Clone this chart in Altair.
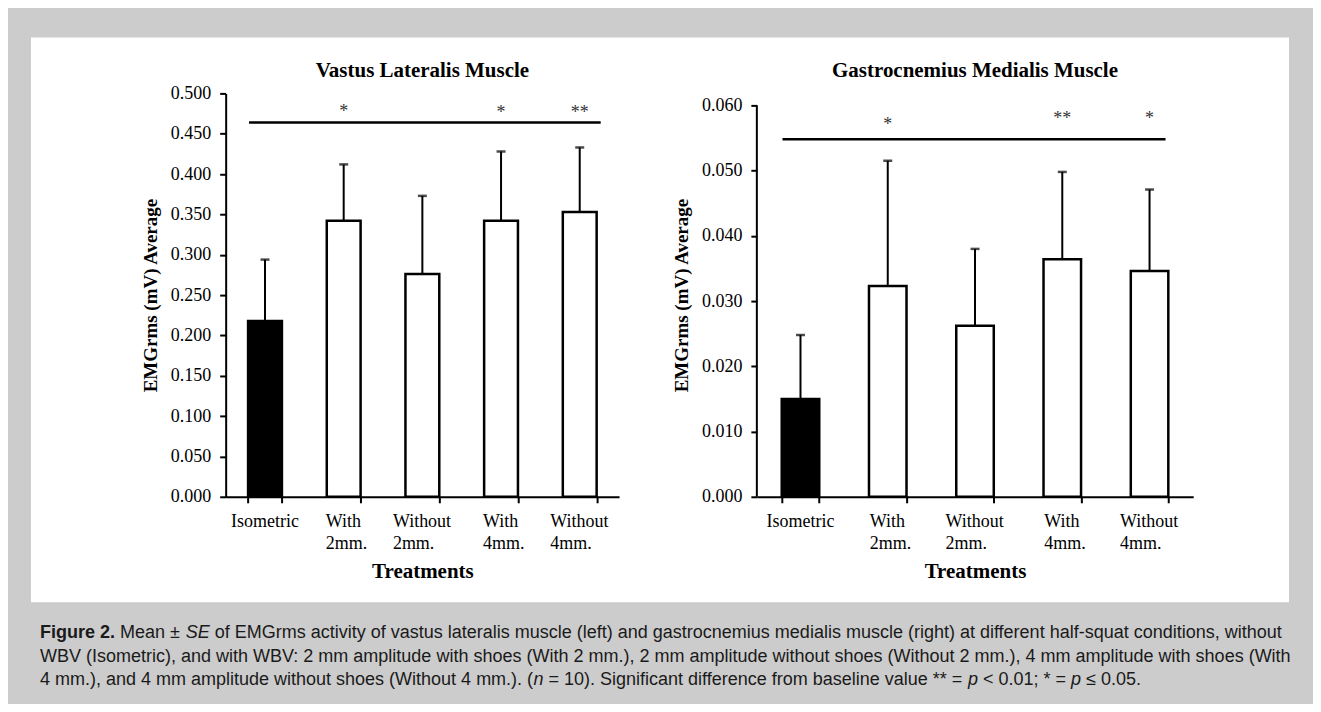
import altair as alt
import pandas as pd

# ---------------- data ----------------
cats = ["Isometric", "With 2mm.", "Without 2mm.", "With 4mm.", "Without 4mm."]

vl_mean = [0.218, 0.342, 0.276, 0.342, 0.353]
vl_se = [0.076, 0.070, 0.097, 0.086, 0.080]
vl_sig = ["", "*", "", "*", "**"]
vl_sig_y = [0.0, 0.471, 0.0, 0.469, 0.470]
vl_line_y = 0.464
vl_ticks = [0.0, 0.05, 0.10, 0.15, 0.20, 0.25, 0.30, 0.35, 0.40, 0.45, 0.50]

gm_mean = [0.0150, 0.0323, 0.0262, 0.0364, 0.0346]
gm_se = [0.0098, 0.0192, 0.0118, 0.0134, 0.0125]
gm_sig = ["", "*", "", "**", "*"]
gm_sig_y = [0.0, 0.0563, 0.0, 0.0572, 0.0572]
gm_line_y = 0.0548
gm_ticks = [0.0, 0.01, 0.02, 0.03, 0.04, 0.05, 0.06]

fills = ["black", "white", "white", "white", "white"]
label_group = ["iso", "with", "without", "with", "without"]

SERIF = "Liberation Serif"
SANS = "Liberation Sans"

# left-aligned two-line tick labels: shift = half width of first line (Times 18px)
label_dx = {"iso": -34, "with": -18, "without": -29.5}

# ---------------- caption ----------------
REG = {" ": 278, "!": 278, "(": 333, ")": 333, "*": 389, "+": 584, ",": 278, "-": 333,
       ".": 278, "/": 278, ":": 278, ";": 278, "<": 584, "=": 584, ">": 584,
       "A": 667, "B": 667, "C": 722, "D": 722, "E": 667, "F": 611, "G": 778, "H": 722,
       "I": 278, "J": 500, "K": 667, "L": 556, "M": 833, "N": 722, "O": 778, "P": 667,
       "Q": 778, "R": 722, "S": 667, "T": 611, "U": 722, "V": 667, "W": 944, "X": 667,
       "Y": 667, "Z": 611, "a": 556, "b": 556, "c": 500, "d": 556, "e": 556, "f": 278,
       "g": 556, "h": 556, "i": 222, "j": 222, "k": 500, "l": 222, "m": 833, "n": 556,
       "o": 556, "p": 556, "q": 556, "r": 333, "s": 500, "t": 278, "u": 556, "v": 500,
       "w": 722, "x": 500, "y": 500, "z": 500, "±": 584, "≤": 549}
BOLD = {" ": 278, ".": 278, "F": 611, "i": 278, "g": 611, "u": 611, "r": 389, "e": 556}


def uw(s, style):
    tab = BOLD if style == "b" else REG
    return sum(tab.get(c, REG.get(c, 556)) for c in s) / 1000.0


cap_lines = [
    [("Figure 2.", "b"), (" Mean ± ", "r"), ("SE", "i"),
     (" of EMGrms activity of vastus lateralis muscle (left) and gastrocnemius medialis muscle (right) at different half-squat conditions, without", "r")],
    [("WBV (Isometric), and with WBV: 2 mm amplitude with shoes (With 2 mm.), 2 mm amplitude without shoes (Without 2 mm.), 4 mm amplitude with shoes (With", "r")],
    [("4 mm.), and 4 mm amplitude without shoes (Without 4 mm.). (", "r"), ("n", "i"),
     (" = 10). Significant difference from baseline value ** = ", "r"), ("p", "i"),
     (" < 0.01; * = ", "r"), ("p", "i"), (" ≤ 0.05.", "r")],
]
# positions relative to the left plot's origin
cap_x0 = -186
cap_w = 1245
cap_y = [540, 564, 588]
cap_fs = round(cap_w / sum(uw(t, s) for t, s in cap_lines[0]), 2)

dummy = pd.DataFrame({"k": [0]})


def caption_layers():
    out = []
    for li, segs in enumerate(cap_lines):
        cur = 0.0
        for t, s in segs:
            lead = len(t) - len(t.lstrip(" "))
            px = round(cap_x0 + (cur + uw(t[:lead], s)) * cap_fs, 1)
            cur += uw(t, s)
            out.append(
                alt.Chart(dummy).mark_text(
                    text=t.strip(" "), font=SANS, fontSize=cap_fs,
                    fontWeight="bold" if s == "b" else "normal",
                    fontStyle="italic" if s == "i" else "normal",
                    align="left", baseline="middle", color="#1a1a1a",
                ).encode(x=alt.value(px), y=alt.value(cap_y[li]))
            )
    return out


def panel(title, means, ses, sig, sig_y, line_y, line_off, ymax, ticks, w, h,
          ytop_rule=None, decorate=False):
    df = pd.DataFrame({
        "cat": cats,
        "mean": means,
        "top": [m + s for m, s in zip(means, ses)],
        "fill": fills,
        "sig": sig,
        "sig_y": sig_y,
        "lab": [c.replace(" ", "\n") for c in cats],
        "grp": label_group,
    })
    xscale = alt.Scale(domain=cats, paddingInner=0.57, paddingOuter=0.285)
    yscale = alt.Scale(domain=[0, ymax], nice=False, zero=True)
    xax = alt.Axis(
        title="Treatments", titleFont=SERIF, titleFontSize=21, titleFontWeight="bold",
        titleColor="black", titlePadding=57, labels=False,
        tickBand="extent", tickSize=6, tickWidth=2, tickColor="black",
        domainWidth=2, domainColor="black", zindex=1,
    )
    yax = alt.Axis(
        title="EMGrms (mV) Average", titleFont=SERIF, titleFontSize=19, titleFontWeight="bold",
        titleColor="black", titlePadding=10,
        labelFont=SERIF, labelFontSize=18, labelColor="black", labelPadding=9,
        values=ticks, format=".3f", tickSize=6, tickWidth=2, tickColor="black",
        domain=(ytop_rule is None), domainWidth=2, domainColor="black", grid=False, zindex=1,
    )
    X = alt.X("cat:N", scale=xscale, axis=xax)
    base = alt.Chart(df)
    layers = []
    if decorate:
        layers.append(
            alt.Chart(dummy).mark_rect(fill="white").encode(
                x=alt.value(-195), x2=alt.value(1065), y=alt.value(-56), y2=alt.value(510)
            )
        )
        layers.append(
            alt.Chart(dummy).mark_rect(fill="#cccccc").encode(
                x=alt.value(-195), x2=alt.value(1065), y=alt.value(510), y2=alt.value(611)
            )
        )
    bars = base.mark_bar(stroke="black", strokeWidth=2.5).encode(
        x=X, y=alt.Y("mean:Q", scale=yscale, axis=yax),
        fill=alt.Fill("fill:N", scale=None),
    )
    err = base.mark_rule(color="black", strokeWidth=2).encode(
        x=X, y=alt.Y("mean:Q", scale=yscale, axis=yax), y2="top",
    )
    caps = base.mark_tick(color="black", size=9, thickness=2.5).encode(
        x=X, y=alt.Y("top:Q", scale=yscale, axis=yax),
    )
    line_df = pd.DataFrame({"a": [cats[0]], "b": [cats[-1]], "y": [line_y]})
    sigline = alt.Chart(line_df).mark_rule(
        color="black", strokeWidth=2.5, xOffset=line_off[0], x2Offset=line_off[1]
    ).encode(
        x=alt.X("a:N", scale=xscale, axis=xax),
        x2="b",
        y=alt.Y("y:Q", scale=yscale, axis=yax),
    )
    stars = base.transform_filter("datum.sig != ''").mark_text(
        font=SERIF, fontSize=18, color="#333333", baseline="alphabetic"
    ).encode(
        x=X, y=alt.Y("sig_y:Q", scale=yscale, axis=yax), text="sig:N",
    )
    layers += [bars, err, caps, sigline, stars]
    for g, dx in label_dx.items():
        layers.append(
            base.transform_filter(f"datum.grp == '{g}'").mark_text(
                font=SERIF, fontSize=18, color="black", align="left", baseline="top",
                dx=dx, lineBreak="\n", lineHeight=22,
            ).encode(x=X, y=alt.value(h + 16), text="lab:N")
        )
    if ytop_rule is not None:
        rdf = pd.DataFrame({"y0": [0.0], "y1": [ytop_rule]})
        layers.append(
            alt.Chart(rdf).mark_rule(color="black", strokeWidth=2).encode(
                x=alt.value(0),
                y=alt.Y("y0:Q", scale=yscale, axis=yax),
                y2="y1",
            )
        )
    # panel title drawn as a text mark so that it sits at a fixed distance above the plot
    layers.append(
        alt.Chart(dummy).mark_text(
            text=title, font=SERIF, fontSize=21, fontWeight="bold", color="black",
            align="center", baseline="middle",
        ).encode(x=alt.value(w / 2), y=alt.value(-22))
    )
    if decorate:
        layers += caption_layers()
    return alt.layer(*layers).properties(width=w, height=h)


left = panel("Vastus Lateralis Muscle", vl_mean, vl_se, vl_sig, vl_sig_y, vl_line_y, (-16, 21),
             0.5, vl_ticks, 394, 404, decorate=True)
right = panel("Gastrocnemius Medialis Muscle", gm_mean, gm_se, gm_sig, gm_sig_y, gm_line_y, (-18, 16),
              0.06 * 404 / 392, gm_ticks, 437, 404, ytop_rule=0.06)

chart = alt.hconcat(left, right, spacing=138, bounds="flush").configure(
    background="#cccccc",
    padding={"left": 23, "top": 29, "right": 22, "bottom": 0},
).configure_view(stroke=None)

chart.save("out.html", embed_options={"renderer": "svg", "actions": False})
